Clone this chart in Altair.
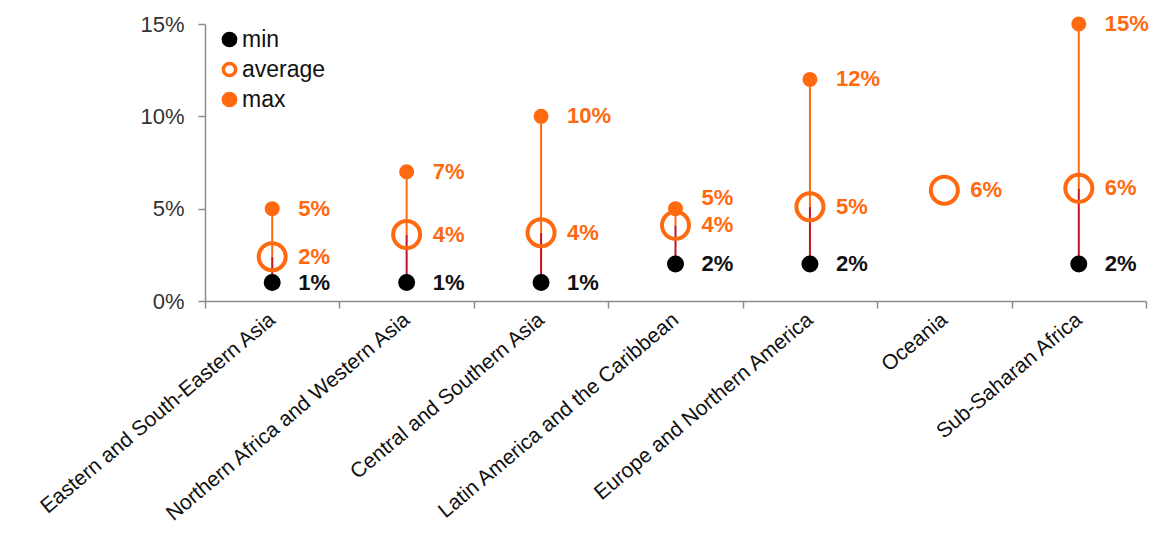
import altair as alt
import pandas as pd

regions = [
    "Eastern and South-Eastern Asia",
    "Northern Africa and Western Asia",
    "Central and Southern Asia",
    "Latin America and the Caribbean",
    "Europe and Northern America",
    "Oceania",
    "Sub-Saharan Africa",
]
min_vals = [1, 1, 1, 2, 2, None, 2]
avg_vals = [2.4, 3.6, 3.7, 4.1, 5.1, 6.0, 6.1]
max_vals = [5, 7, 10, 5, 12, None, 15]
series_names = ["min", "average", "max"]

ORANGE = "#FF6A10"
RED = "#C8101E"
FONT = "Liberation Sans"

wide = pd.DataFrame({"region": regions, "min": min_vals, "average": avg_vals, "max": max_vals})

rows = []
for r, mn, av, mx in zip(regions, min_vals, avg_vals, max_vals):
    for s, v in (("min", mn), ("average", av), ("max", mx)):
        if v is not None:
            rows.append({"region": r, "series": s, "value": v})
long = pd.DataFrame(rows)

xenc = alt.X(
    "region:N",
    sort=regions,
    title=None,
    scale=alt.Scale(type="band", paddingInner=0, paddingOuter=0),
    axis=alt.Axis(
        labelAngle=-40,
        labelAlign="right",
        labelBaseline="middle",
        labelFont=FONT,
        labelFontSize=21,
        labelColor="#111111",
        labelLimit=600,
        labelPadding=9,
        tickBand="extent",
        tickSize=7,
        tickColor="#8c8c8c",
        tickWidth=1.5,
        domainColor="#8c8c8c",
        domainWidth=1.5,
        grid=False,
    ),
)
yscale = alt.Scale(domain=[0, 15], nice=False, zero=True)
yaxis = alt.Axis(
    values=[0, 5, 10, 15],
    labelExpr="datum.value + '%'",
    labelFont=FONT,
    labelFontSize=22,
    labelColor="#333333",
    labelPadding=14,
    tickSize=7,
    tickColor="#8c8c8c",
    tickWidth=1.5,
    domainColor="#8c8c8c",
    domainWidth=1.5,
    grid=False,
    title=None,
)

legend_props = dict(
    title=None,
    orient="none",
    legendX=13,
    legendY=4,
    labelFont=FONT,
    labelFontSize=23,
    labelColor="#111111",
    symbolSize=150,
    symbolStrokeWidth=3.5,
    symbolType="circle",
    rowPadding=3,
    labelOffset=1,
)

base_w = alt.Chart(wide)

low_rule = base_w.transform_filter("isValid(datum['min'])").mark_rule(
    color=RED, strokeWidth=2
).encode(
    x=xenc,
    y=alt.Y("min:Q", scale=yscale, axis=yaxis),
    y2="average:Q",
)
high_rule = base_w.transform_filter("isValid(datum['max'])").mark_rule(
    color=ORANGE, strokeWidth=2
).encode(
    x=alt.X("region:N", sort=regions),
    y=alt.Y("average:Q"),
    y2="max:Q",
)

points = alt.Chart(long).transform_calculate(
    series_size="datum.series"
).mark_point(filled=False, opacity=1).encode(
    x=alt.X("region:N", sort=regions),
    y=alt.Y("value:Q"),
    fill=alt.Fill(
        "series:N",
        scale=alt.Scale(domain=series_names, range=["#000000", "transparent", ORANGE]),
        legend=alt.Legend(**legend_props),
    ),
    stroke=alt.Stroke(
        "series:N",
        scale=alt.Scale(domain=series_names, range=["#000000", ORANGE, ORANGE]),
        legend=alt.Legend(**legend_props),
    ),
    size=alt.Size(
        "series_size:N",
        scale=alt.Scale(type="ordinal", domain=["average", "max", "min"], range=[729, 121, 169]),
        legend=None,
    ),
    strokeWidth=alt.value(4),
)

def labels(series, color, flt=None, dy=0):
    ch = alt.Chart(long).transform_filter(alt.datum.series == series)
    if flt is not None:
        ch = ch.transform_filter(flt)
    return ch.transform_calculate(
        label="format(datum.value, '.0f') + '%'"
    ).mark_text(
        align="left", baseline="middle", dx=26, dy=dy,
        font=FONT, fontSize=22, fontWeight="bold", color=color,
    ).encode(
        x=alt.X("region:N", sort=regions),
        y=alt.Y("value:Q"),
        text="label:N",
    )

min_labels = labels("min", "#111111")
avg_labels = labels("average", ORANGE)
max_labels = labels("max", ORANGE, flt="datum.region != 'Latin America and the Caribbean'")
max_labels_latam = labels("max", ORANGE, flt="datum.region == 'Latin America and the Caribbean'", dy=-11)

chart = alt.layer(
    low_rule, high_rule, points, min_labels, avg_labels, max_labels, max_labels_latam
).properties(
    width=941,
    height=277,
    autosize=alt.AutoSizeParams(type="none"),
    padding={"left": 197, "top": 16, "right": 3, "bottom": 234},
).configure_view(stroke=None)

chart.save("out.html", embed_options={"renderer": "svg", "actions": False})
